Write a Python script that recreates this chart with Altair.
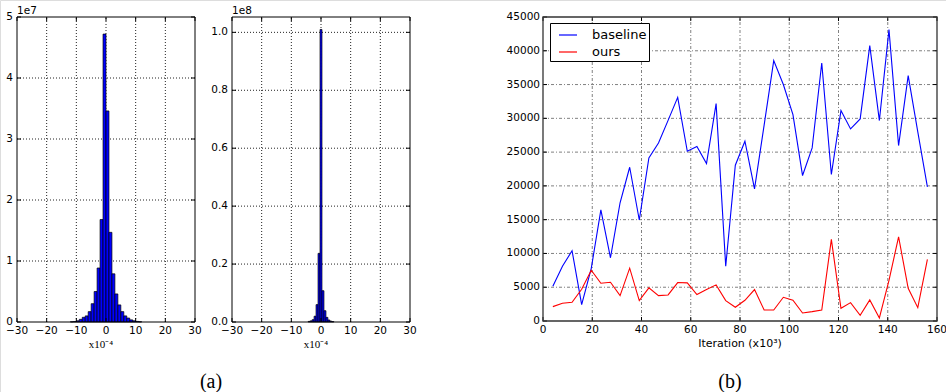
import altair as alt
import pandas as pd

FONT = "DejaVu Sans"
SERIF = "Liberation Serif"

# ---------------- data ----------------
# Histogram (a-left): bin edges in units of 1e-4, counts
h1_lo = [-12, -11, -10, -9, -8, -7, -6, -5, -4, -3, -2, -1, 0, 1, 2, 3, 4, 5, 6, 7, 8, 9, 10, 11]
h1_hi = [-11, -10, -9, -8, -7, -6, -5, -4, -3, -2, -1, 0, 1, 2, 3, 4, 5, 6, 7, 8, 9, 10, 11, 12]
h1_n = [0.04e6, 0.08e6, 0.2e6, 0.44e6, 0.77e6, 1.0e6, 1.7e6, 3.0e6, 5.0e6, 8.85e6, 16.8e6, 47.2e6,
        34.6e6, 14.7e6, 7.9e6, 4.6e6, 2.8e6, 1.7e6, 1.0e6, 0.65e6, 0.35e6, 0.2e6, 0.1e6, 0.05e6]

# Histogram (a-right)
h2_lo = [-4.33, -3.67, -3.0, -2.33, -1.67, -1.0, -0.33, 0.33, 1.0, 1.67, 2.33, 3.0, 3.67]
h2_hi = [-3.67, -3.0, -2.33, -1.67, -1.0, -0.33, 0.33, 1.0, 1.67, 2.33, 3.0, 3.67, 4.33]
h2_n = [0.2e6, 0.4e6, 0.8e6, 2.0e6, 6.0e6, 23.7e6, 101.0e6, 10.8e6, 3.9e6, 1.6e6, 0.7e6, 0.3e6, 0.15e6]

# Line chart (b)
iteration = [4.0, 7.9, 11.8, 15.7, 19.6, 23.5, 27.4, 31.3, 35.2, 39.1, 43.0, 46.9, 50.8, 54.7,
             58.6, 62.5, 66.4, 70.3, 74.2, 78.1, 82.0, 85.9, 89.8, 93.7, 97.6, 101.5, 105.4,
             109.3, 113.2, 117.1, 121.0, 124.9, 128.8, 132.7, 136.6, 140.5, 144.4, 148.3,
             152.2, 156.1]
baseline = [5150, 8100, 10400, 2430, 7800, 16440, 9360, 17500, 22760, 14950, 24140, 26360,
            29700, 33110, 25130, 25820, 23300, 32180, 8100, 23060, 26610, 19560, 29000, 38540,
            35000, 30550, 21530, 25620, 38200, 21680, 31150, 28430, 29910, 40760, 29670, 43130,
            25970, 36320, 28000, 19850]
ours = [2130, 2620, 2770, 4700, 7520, 5590, 5740, 3760, 7820, 3020, 4900, 3760, 3860, 5690,
        5640, 3910, 4650, 5350, 3020, 2030, 3070, 4650, 1630, 1630, 3510, 3070, 1190, 1390,
        1630, 12080, 1880, 2720, 840, 3120, 450, 6000, 12470, 4850, 1980, 9110]
series_names = ["baseline", "ours"]

# ticks / tick labels
hist_xticks = [-30, -20, -10, 0, 10, 20, 30]
hist_xlabels = ["−30", "−20", "−10", "0", "10", "20", "30"]
hist_xgrid = [-20, -10, 0, 10, 20]
h1_yticks = [0, 1e7, 2e7, 3e7, 4e7, 5e7]
h1_ylabels = ["0", "1", "2", "3", "4", "5"]
h1_ygrid = [1e7, 2e7, 3e7, 4e7]
h2_yticks = [0, 0.2e8, 0.4e8, 0.6e8, 0.8e8, 1.0e8]
h2_ylabels = ["0.0", "0.2", "0.4", "0.6", "0.8", "1.0"]
h2_ygrid = [0.2e8, 0.4e8, 0.6e8, 0.8e8, 1.0e8]
b_xticks = [0, 20, 40, 60, 80, 100, 120, 140, 160]
b_xlabels = ["0", "20", "40", "60", "80", "100", "120", "140", "160"]
b_xgrid = [20, 40, 60, 80, 100, 120, 140]
b_yticks = [0, 5000, 10000, 15000, 20000, 25000, 30000, 35000, 40000, 45000]
b_ylabels = ["0", "5000", "10000", "15000", "20000", "25000", "30000", "35000", "40000", "45000"]
b_ygrid = [5000, 10000, 15000, 20000, 25000, 30000, 35000, 40000]

LABEL_SIZE = 10.5
TICK_LEN = 4


def one_row(text=""):
    return pd.DataFrame({"t": [text]})


def x_tick_labels(ticks, labels, y):
    return alt.Chart(pd.DataFrame({"v": ticks, "lab": labels})).mark_text(
        align="center", baseline="alphabetic", font=FONT, fontSize=LABEL_SIZE, color="black"
    ).encode(x=alt.X("v:Q", axis=None), y=alt.value(y), text="lab:N")


def y_tick_labels(ticks, labels, x):
    return alt.Chart(pd.DataFrame({"v": ticks, "lab": labels})).mark_text(
        align="right", baseline="middle", font=FONT, fontSize=LABEL_SIZE, color="black"
    ).encode(y=alt.Y("v:Q", axis=None), x=alt.value(x), text="lab:N")


def inward_ticks(xticks, yticks, xr, yr):
    """Matplotlib-classic style ticks pointing into the plot on all four sides."""
    xdf = pd.DataFrame({"v": xticks})
    ydf = pd.DataFrame({"v": yticks})
    layers = []
    for y0, y1 in [(yr[0], yr[0] - TICK_LEN), (yr[1], yr[1] + TICK_LEN)]:
        layers.append(alt.Chart(xdf).mark_rule(color="black", strokeWidth=1).encode(
            x=alt.X("v:Q", axis=None), y=alt.value(y0), y2=alt.value(y1)))
    for x0, x1 in [(xr[0], xr[0] + TICK_LEN), (xr[1], xr[1] - TICK_LEN)]:
        layers.append(alt.Chart(ydf).mark_rule(color="black", strokeWidth=1).encode(
            y=alt.Y("v:Q", axis=None), x=alt.value(x0), x2=alt.value(x1)))
    return layers


def free_text(text, x, y, font, size, align="center", baseline="alphabetic"):
    return alt.Chart(one_row(text)).mark_text(
        align=align, baseline=baseline, font=font, fontSize=size, color="black"
    ).encode(x=alt.value(x), y=alt.value(y), text="t:N")


def hist_panel(lo, hi, n, xr, yr, ymax, yticks, ylabels, ygrid, offset_text):
    df = pd.DataFrame({"lo": lo, "hi": hi, "n": n})
    xs = alt.Scale(domain=[-30, 30], range=xr, nice=False, zero=False)
    ys = alt.Scale(domain=[0, ymax], range=yr, nice=False, zero=False)
    xgrid = alt.Chart(pd.DataFrame({"v": hist_xgrid})).mark_rule(
        color="#222222", strokeDash=[1, 2], strokeWidth=1
    ).encode(
        x=alt.X("v:Q", scale=xs, axis=None),
        y=alt.Y(datum=0, scale=ys, axis=None),
        y2=alt.Y2(datum=ymax),
    )
    ygr = alt.Chart(pd.DataFrame({"v": ygrid})).mark_rule(
        color="#222222", strokeDash=[1, 2], strokeWidth=1
    ).encode(
        y=alt.Y("v:Q", axis=None),
        x=alt.X(datum=-30, axis=None),
        x2=alt.X2(datum=30),
    )
    bars = alt.Chart(df).mark_rect(fill="#0000ff", stroke="black", strokeWidth=0.7).encode(
        x=alt.X("lo:Q", axis=None),
        x2="hi:Q",
        y=alt.Y("n:Q", axis=None),
        y2=alt.Y2(datum=0),
    )
    frame = alt.Chart(one_row()).mark_rect(fillOpacity=0, stroke="black", strokeWidth=1).encode(
        x=alt.X(datum=-30, axis=None), x2=alt.X2(datum=30),
        y=alt.Y(datum=0, axis=None), y2=alt.Y2(datum=ymax),
    )
    ticks = inward_ticks(hist_xticks, yticks, xr, yr)
    xl = x_tick_labels(hist_xticks, hist_xlabels, yr[0] + 12)
    yl = y_tick_labels(yticks, ylabels, xr[0] - 4)
    mid = (xr[0] + xr[1]) / 2
    title = free_text("x10⁻⁴", mid - 5, 348, SERIF, 11)
    off = free_text(offset_text, xr[0], 14, FONT, LABEL_SIZE, align="left")
    return alt.layer(xgrid, ygr, bars, *ticks, frame, xl, yl, title, off)


p1 = hist_panel(h1_lo, h1_hi, h1_n, [17, 195], [322, 17], 5e7, h1_yticks, h1_ylabels, h1_ygrid, "1e7")
p2 = hist_panel(h2_lo, h2_hi, h2_n, [232, 410], [322, 17], 1.053e8, h2_yticks, h2_ylabels, h2_ygrid, "1e8")

# ---------- panel (b) ----------
line_df = pd.concat([
    pd.DataFrame({"it": iteration, "val": baseline, "series": series_names[0]}),
    pd.DataFrame({"it": iteration, "val": ours, "series": series_names[1]}),
])
bx = alt.Scale(domain=[0, 160], range=[543, 937], nice=False, zero=False)
by = alt.Scale(domain=[0, 45000], range=[321, 17], nice=False, zero=False)
GRID_B = dict(color="#808080", strokeDash=[3, 2, 1, 2], strokeWidth=1)
bxg = alt.Chart(pd.DataFrame({"v": b_xgrid})).mark_rule(**GRID_B).encode(
    x=alt.X("v:Q", scale=bx, axis=None), y=alt.Y(datum=0, scale=by, axis=None),
    y2=alt.Y2(datum=45000))
byg = alt.Chart(pd.DataFrame({"v": b_ygrid})).mark_rule(**GRID_B).encode(
    y=alt.Y("v:Q", axis=None), x=alt.X(datum=0, axis=None), x2=alt.X2(datum=160))
lines = alt.Chart(line_df).mark_line(strokeWidth=1.1).encode(
    x=alt.X("it:Q", axis=None),
    y=alt.Y("val:Q", axis=None),
    color=alt.Color("series:N", scale=alt.Scale(domain=series_names, range=["#0000ff", "#ff0000"]),
                    legend=alt.Legend(orient="none", legendX=550, legendY=23, title=None,
                                      symbolType="stroke", symbolSize=324, symbolStrokeWidth=1.2,
                                      symbolOffset=6,
                                      labelFont=FONT, labelFontSize=13, labelColor="black",
                                      labelOffset=14, padding=2, rowPadding=0,
                                      strokeColor="black", fillColor="white")),
)
bframe = alt.Chart(one_row()).mark_rect(fillOpacity=0, stroke="#333333", strokeWidth=1.3).encode(
    x=alt.X(datum=0, axis=None), x2=alt.X2(datum=160),
    y=alt.Y(datum=0, axis=None), y2=alt.Y2(datum=45000),
)
bticks = inward_ticks(b_xticks, b_yticks, [543, 937], [321, 17])
bxl = x_tick_labels(b_xticks, b_xlabels, 333)
byl = y_tick_labels(b_yticks, b_ylabels, 540)
btitle = free_text("Iteration (x10³)", 740, 347, FONT, 11)
p3 = alt.layer(bxg, byg, lines, *bticks, bframe, bxl, byl, btitle)

cap_a = free_text("(a)", 211, 382, SERIF, 20, baseline="middle")
cap_b = free_text("(b)", 730, 382, SERIF, 20, baseline="middle")

chart = alt.layer(p1, p2, p3, cap_a, cap_b).resolve_scale(
    x="independent", y="independent", color="independent"
).properties(
    width=946, height=392, autosize=alt.AutoSizeParams(type="none"), padding=0
).configure_view(stroke=None).configure(background="white")

chart.save("out.html", embed_options={"renderer": "svg", "actions": False})
